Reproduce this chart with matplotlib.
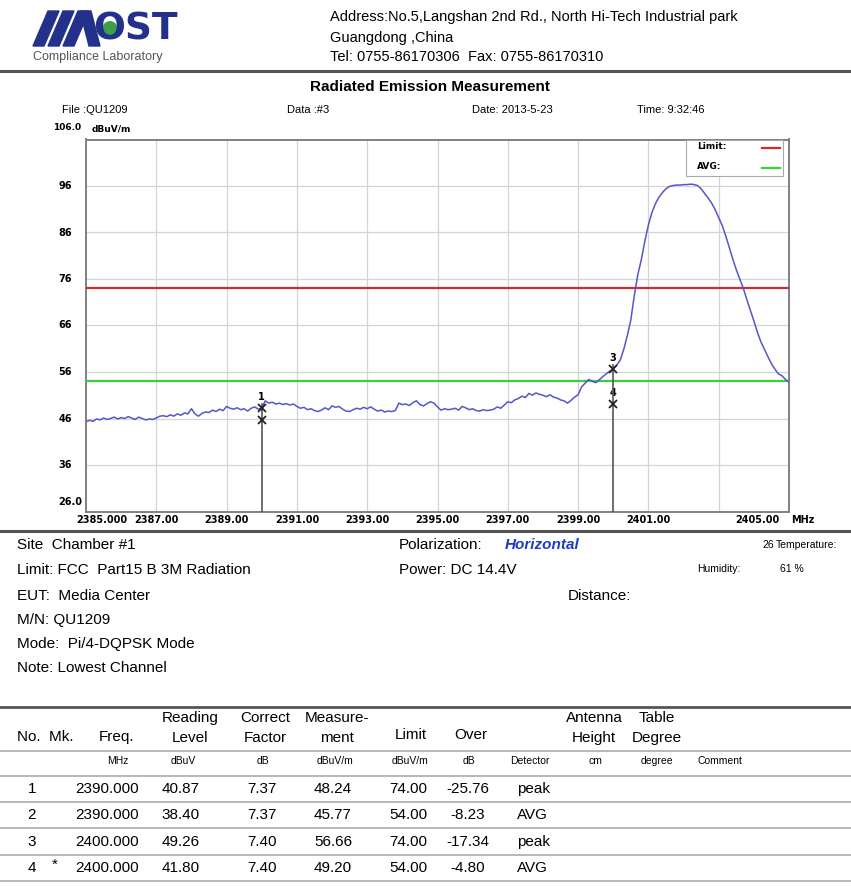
import numpy as np
import matplotlib
matplotlib.use("Agg")
import matplotlib.pyplot as plt
from matplotlib.lines import Line2D
from matplotlib.patches import Rectangle, Polygon, Circle
import matplotlib.transforms as mtransforms

plt.rcParams['font.family'] = ['Liberation Sans', 'DejaVu Sans']

W, H = 851, 886

# ---- podaci ----
freq = np.round(np.arange(2385.0, 2405.01, 0.1), 1)
level = [
    45.3, 45.6, 45.4, 45.9, 45.7, 46.1, 45.8, 46.0, 46.3, 45.9, 46.2,
    46.0, 46.4, 46.1, 45.8, 46.3, 46.0, 45.7, 45.9, 45.8, 46.1,
    46.5, 46.6, 46.4, 46.8, 46.5, 47.0, 46.7, 47.2, 47.0, 48.1,
    47.0, 46.5, 47.1, 47.4, 47.3, 47.8, 47.5, 48.0, 47.7, 48.6,
    48.2, 48.0, 48.3, 47.9, 48.1, 47.6, 48.2, 48.5, 48.0, 48.24,
    49.8, 49.3, 49.5, 49.1, 49.3, 49.0, 49.2, 48.9, 49.1, 48.6,
    48.2, 48.4, 47.9, 48.1, 47.7, 47.5, 47.8, 48.3, 47.9, 48.7,
    48.4, 48.6, 48.0, 47.6, 47.5, 47.9, 48.2, 48.0, 48.4, 48.1,
    48.5, 48.0, 47.6, 47.8, 47.4, 47.6, 47.5, 47.7, 49.3, 49.0,
    49.1, 48.8, 49.4, 49.8, 49.0, 48.7, 49.2, 49.6, 49.3, 48.5,
    47.8, 48.1, 47.9, 48.0, 48.2, 47.8, 48.6, 48.3, 47.9, 48.1,
    47.7, 47.6, 47.9, 47.7, 47.8, 48.0, 48.5, 48.2, 48.9, 49.6,
    49.4, 50.0, 50.3, 50.8, 50.5, 51.4, 51.0, 51.5, 51.2, 51.0,
    50.7, 51.1, 50.6, 50.4, 50.0, 49.8, 49.3, 49.9, 50.6, 51.1,
    52.8, 53.6, 54.4, 54.0, 53.7, 54.3, 55.0, 55.6, 56.2, 56.66,
    57.5, 58.6, 60.9, 63.8, 67.2, 72.5, 77.0, 80.2, 84.2, 87.6,
    90.3, 92.2, 93.6, 94.6, 95.4, 95.9, 96.1, 96.2, 96.2, 96.3,
    96.3, 96.4, 96.3, 96.1, 95.4, 94.4, 93.4, 92.3, 90.9, 89.2,
    87.5, 85.3, 82.8, 80.3, 78.0, 76.0, 74.0, 71.6, 69.3, 67.0,
    64.6, 62.5, 60.9, 59.3, 57.8, 56.6, 55.6, 55.2, 54.4, 53.8,
]
limit_peak = 74.0
limit_avg = 54.0

mk_no = ["1", "2", "3", "4"]
mk_star = ["", "", "", "*"]
mk_freq = [2390.000, 2390.000, 2400.000, 2400.000]
mk_read = [40.87, 38.40, 49.26, 41.80]
mk_corr = [7.37, 7.37, 7.40, 7.40]
mk_meas = [48.24, 45.77, 56.66, 49.20]
mk_limit = [74.00, 54.00, 74.00, 54.00]
mk_over = [-25.76, -8.23, -17.34, -4.80]
mk_det = ["peak", "AVG", "peak", "AVG"]

x_ticks = [2385, 2387, 2389, 2391, 2393, 2395, 2397, 2399, 2401, 2405]
y_ticks = [36, 46, 56, 66, 76, 86, 96]

fig = plt.figure(figsize=(W / 100, H / 100), dpi=100)


def t(x, y, s, **kw):
    # tekst u pikselima slike
    kw.setdefault('va', 'center')
    fig.text(x / W, 1 - y / H, s, **kw)


def hline(y, lw=1.0, c='#888888'):
    fig.add_artist(Line2D([0, 1], [1 - y / H] * 2, color=c, lw=lw))


# ---- zaglavlje / logo ----
navy = '#23318a'
for pts in [[(33, 46), (44, 46), (59, 11), (48, 11)],
            [(48, 46), (59, 46), (74, 11), (63, 11)],
            [(63, 46), (74, 46), (89, 11), (78, 11)]]:
    fig.add_artist(Polygon([(x / W, 1 - y / H) for x, y in pts], closed=True,
                           color=navy, transform=fig.transFigure))
fig.add_artist(Polygon([(x / W, 1 - y / H) for x, y in
                        [(80, 11), (91, 11), (100, 46), (89, 46)]],
                       closed=True, color=navy, transform=fig.transFigure))
t(93, 29, "OST", fontsize=27, fontweight='bold', color=navy, family='DejaVu Sans')
fig.add_artist(Circle((110 / W, 1 - 29 / H), 7 / W, color='#3aa04a',
                      transform=fig.transFigure))
t(33, 57, "Compliance Laboratory", fontsize=9, color='#555555')

t(330, 17, "Address:No.5,Langshan 2nd Rd., North Hi-Tech Industrial park", fontsize=10.5)
t(330, 38, "Guangdong ,China", fontsize=10.5)
t(330, 57, "Tel: 0755-86170306  Fax: 0755-86170310", fontsize=10.5)
hline(71, lw=2.2, c='#555555')

t(430, 87, "Radiated Emission Measurement", fontsize=11, fontweight='bold', ha='center')
t(62, 110, "File :QU1209", fontsize=8)
t(287, 110, "Data :#3", fontsize=8)
t(472, 110, "Date: 2013-5-23", fontsize=8)
t(637, 110, "Time: 9:32:46", fontsize=8)
t(53, 128, "106.0", fontsize=6.5, fontweight='bold', family='DejaVu Sans')
t(92, 129, "dBuV/m", fontsize=6.5, fontweight='bold', family='DejaVu Sans')

# ---- graf ----
ax = fig.add_axes([86 / W, 1 - 511.5 / H, 703 / W, 372 / H])
ax.set_xlim(2385, 2405)
ax.set_ylim(26, 106)
ax.set_xticks(range(2387, 2405, 2))
ax.set_yticks(y_ticks)
ax.tick_params(length=0, labelbottom=False, labelleft=False)
ax.grid(True, color='#d4d4d4', lw=0.9)
for s in ax.spines.values():
    s.set_color('#808080')
    s.set_linewidth(1.4)

ax.axhline(limit_peak, color='#d42a2a', lw=1.6, zorder=3)
ax.axhline(limit_avg, color='#3ccf3c', lw=1.6, zorder=3)
ax.plot(freq, level, color='#5555cc', lw=1.1, zorder=4)

# markeri
for i in range(4):
    ax.plot(mk_freq[i], mk_meas[i], marker='x', color='#222222', ms=5.5, mew=1.3, zorder=6)
for f in [2390.0, 2400.0]:
    top = max(m for m, ff in zip(mk_meas, mk_freq) if ff == f)
    ax.plot([f, f], [26, top + 0.8], color='#555555', lw=1.2, zorder=5)
ax.text(2390.0, 48.24 + 2.3, "1", ha='center', va='center', fontsize=7, fontweight='bold',
        family='DejaVu Sans')
ax.text(2400.0, 56.66 + 2.3, "3", ha='center', va='center', fontsize=7, fontweight='bold',
        family='DejaVu Sans')
ax.text(2400.0, 49.20 + 2.2, "4", ha='center', va='center', fontsize=7, fontweight='bold',
        family='DejaVu Sans')

# oznake osi
ytr = mtransforms.blended_transform_factory(ax.transAxes, ax.transData)
for v in y_ticks:
    ax.text(-14 / 703, v, str(v), transform=ytr, ha='right', va='center', fontsize=7,
            fontweight='bold', family='DejaVu Sans')
ax.text(-4 / 703, 9.5 / 372, "26.0", transform=ax.transAxes, ha='right', va='center',
        fontsize=7, fontweight='bold', family='DejaVu Sans')
xtr = mtransforms.blended_transform_factory(ax.transData, ax.transAxes)
for v in x_ticks:
    if v == 2385:
        ax.text(2384.72, -8.5 / 372, "2385.000", transform=xtr, ha='left', va='center',
                fontsize=7, fontweight='bold', family='DejaVu Sans')
    elif v == 2405:
        ax.text(2404.74, -8.5 / 372, "2405.00", transform=xtr, ha='right', va='center',
                fontsize=7, fontweight='bold', family='DejaVu Sans')
    else:
        ax.text(v, -8.5 / 372, "%.2f" % v, transform=xtr, ha='center', va='center',
                fontsize=7, fontweight='bold', family='DejaVu Sans')
ax.text(1 + 2 / 703, -8.5 / 372, "MHz", transform=ax.transAxes, ha='left', va='center',
        fontsize=7, fontweight='bold', family='DejaVu Sans')

# legenda
ax.add_patch(Rectangle(((686 - 86) / 703, 1 - 36 / 372), 97 / 703, 36 / 372,
                       transform=ax.transAxes, facecolor='white', edgecolor='#aaaaaa',
                       lw=0.8, zorder=7))
ax.text((697 - 86) / 703, 1 - 7 / 372, "Limit:", transform=ax.transAxes, fontsize=6.5,
        fontweight='bold', va='center', family='DejaVu Sans', zorder=8)
ax.text((697 - 86) / 703, 1 - 27 / 372, "AVG:", transform=ax.transAxes, fontsize=6.5,
        fontweight='bold', va='center', family='DejaVu Sans', zorder=8)
ax.plot([(762 - 86) / 703, (780 - 86) / 703], [1 - 8 / 372] * 2, transform=ax.transAxes,
        color='#d42a2a', lw=1.6, zorder=8)
ax.plot([(762 - 86) / 703, (780 - 86) / 703], [1 - 28 / 372] * 2, transform=ax.transAxes,
        color='#3ccf3c', lw=1.6, zorder=8)

# ---- podaci o mjerenju ----
hline(531, lw=2.2, c='#555555')
fs = 11
t(17, 545, "Site  Chamber #1", fontsize=fs)
t(399, 545, "Polarization:", fontsize=fs)
t(505, 545, "Horizontal", fontsize=fs, fontweight='bold', style='italic', color='#1e3cc4')
t(762, 545, "26", fontsize=7.5)
t(776, 545, "Temperature:", fontsize=7.5)
t(17, 570, "Limit: FCC  Part15 B 3M Radiation", fontsize=fs)
t(399, 570, "Power: DC 14.4V", fontsize=fs)
t(697, 569, "Humidity:", fontsize=7.5)
t(780, 569, "61 %", fontsize=7.5)
t(17, 596, "EUT:  Media Center", fontsize=fs)
t(568, 596, "Distance:", fontsize=fs)
t(17, 620, "M/N: QU1209", fontsize=fs)
t(17, 644, "Mode:  Pi/4-DQPSK Mode", fontsize=fs)
t(17, 668, "Note: Lowest Channel", fontsize=fs)

# ---- tablica ----
hline(707, lw=2.0, c='#555555')
t(17, 737, "No.  Mk.", fontsize=fs)
hdr = [(117, "", "Freq."), (190, "Reading", "Level"), (265, "Correct", "Factor"),
       (337, "Measure-", "ment"), (411, "", "Limit"), (471, "", "Over"),
       (594, "Antenna", "Height"), (657, "Table", "Degree")]
for x, a, b in hdr:
    if a:
        t(x, 718, a, fontsize=fs, ha='center')
        t(x, 738, b, fontsize=fs, ha='center')
    else:
        t(x, 735 if b != "Freq." else 737, b, fontsize=fs, ha='center')
hline(751, lw=1.2, c='#aaaaaa')
units = [(118, "MHz"), (183, "dBuV"), (263, "dB"), (335, "dBuV/m"), (410, "dBuV/m"),
         (469, "dB"), (530, "Detector"), (595, "cm"), (657, "degree"), (720, "Comment")]
for x, u in units:
    t(x, 761, u, fontsize=7.5, ha='center')
hline(776, lw=1.2, c='#aaaaaa')
row_y = [789, 815, 842, 868]
for i in range(4):
    y = row_y[i]
    t(32, y, mk_no[i], fontsize=fs, ha='center')
    t(55, y - 3, mk_star[i], fontsize=fs, ha='center')
    t(107, y, "%.3f" % mk_freq[i], fontsize=fs, ha='center')
    t(181, y, "%.2f" % mk_read[i], fontsize=fs, ha='center')
    t(262, y, "%.2f" % mk_corr[i], fontsize=fs, ha='center')
    t(333, y, "%.2f" % mk_meas[i], fontsize=fs, ha='center')
    t(408, y, "%.2f" % mk_limit[i], fontsize=fs, ha='center')
    t(468, y, "%.2f" % mk_over[i], fontsize=fs, ha='center')
    t(517, y, mk_det[i], fontsize=fs)
    hline(y + 13, lw=1.2, c='#aaaaaa')

fig.savefig("out.png", dpi=100)
